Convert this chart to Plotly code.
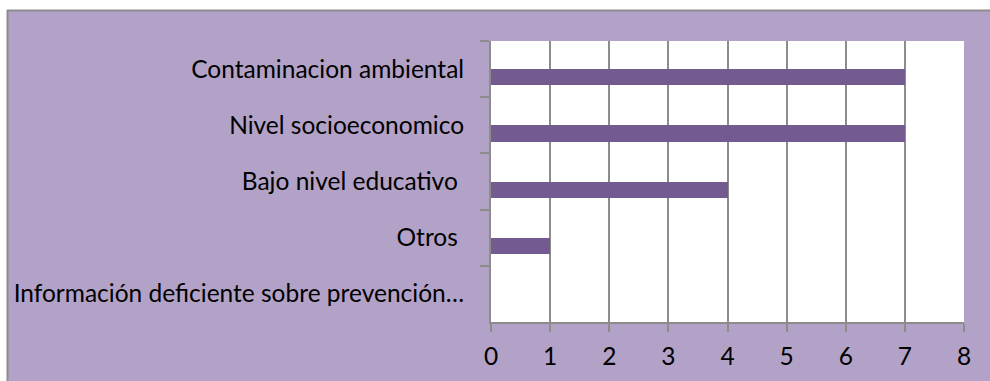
import plotly.graph_objects as go

# Factors and their counts, listed top to bottom
categories = [
    "Contaminacion ambiental",
    "Nivel socioeconomico",
    "Bajo nivel educativo\u00a0",
    "Otros\u00a0",
    "Información deficiente sobre prevención…",
]
counts = [7, 7, 4, 1, 0]
x_ticks = [0, 1, 2, 3, 4, 5, 6, 7, 8]

W, H = 990, 381
ML, MR, MT, MB = 491, 26, 41, 59
PW, PH = W - ML - MR, H - MT - MB

LAVENDER = "#B3A2C7"
BAR = "#735A91"
GRID = "#8C8C8C"
FONT = "Lato"
FSIZE = 24.5


def px_x(px):
    return (px - ML) / PW


def px_y(py):
    return (H - MB - py) / PH


fig = go.Figure(
    go.Bar(
        x=counts,
        y=categories,
        orientation="h",
        marker=dict(color=BAR, line=dict(width=0)),
        width=0.29,
        offset=0.0,
        hoverinfo="x+y",
    )
)

shapes = [
    # white strips framing the lavender chart area
    dict(type="rect", xref="paper", yref="paper", x0=px_x(-5), x1=px_x(W + 5),
         y0=px_y(10), y1=px_y(-5), fillcolor="white", line=dict(width=0), layer="below"),
    dict(type="rect", xref="paper", yref="paper", x0=px_x(-5), x1=px_x(7),
         y0=px_y(H + 5), y1=px_y(-5), fillcolor="white", line=dict(width=0), layer="below"),
    # chart border (top and left)
    dict(type="line", xref="paper", yref="paper", x0=px_x(7), x1=px_x(W + 5),
         y0=px_y(10.5), y1=px_y(10.5), line=dict(color=GRID, width=2), layer="below"),
    dict(type="line", xref="paper", yref="paper", x0=px_x(7.5), x1=px_x(7.5),
         y0=px_y(10), y1=px_y(H + 5), line=dict(color=GRID, width=2), layer="below"),
]

fig.update_layout(
    width=W,
    height=H,
    margin=dict(l=ML, r=MR, t=MT, b=MB, pad=0),
    paper_bgcolor=LAVENDER,
    plot_bgcolor="white",
    showlegend=False,
    shapes=shapes,
    font=dict(family=FONT, size=FSIZE, color="#000000"),
    bargap=0.0,
)

fig.update_xaxes(
    range=[0, 8],
    tickvals=x_ticks,
    ticktext=[str(v) for v in x_ticks],
    showgrid=True,
    gridcolor=GRID,
    gridwidth=2,
    zeroline=False,
    showline=True,
    linecolor=GRID,
    linewidth=2,
    ticks="outside",
    ticklen=8,
    tickwidth=2,
    tickcolor=GRID,
    ticklabelstandoff=4,
    tickfont=dict(family=FONT, size=FSIZE, color="#000000"),
    fixedrange=True,
)

fig.update_yaxes(
    categoryorder="array",
    categoryarray=categories,
    autorange="reversed",
    showgrid=False,
    zeroline=False,
    showline=True,
    linecolor=GRID,
    linewidth=2,
    ticks="outside",
    tickson="boundaries",
    ticklen=9,
    tickwidth=2,
    tickcolor=GRID,
    ticklabelstandoff=20,
    tickfont=dict(family=FONT, size=FSIZE, color="#000000"),
    fixedrange=True,
)

fig.write_html("out.html", config={"displayModeBar": False})
